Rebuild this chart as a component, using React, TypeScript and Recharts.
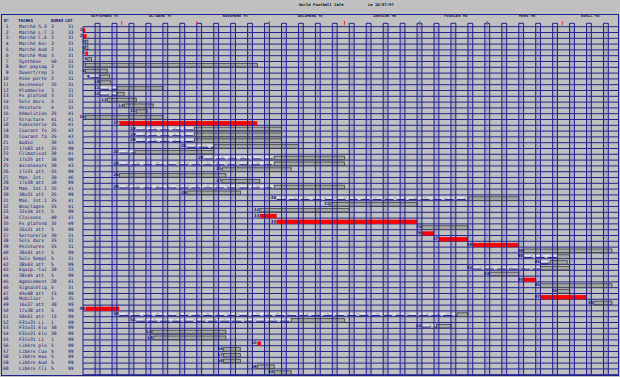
import React from 'react';
import { BarChart, Bar, XAxis, YAxis, CartesianGrid, ReferenceLine, ReferenceArea, LabelList } from 'recharts';

const W = 620;
const H = 377;
const MARGIN = { top: 26.7, right: 2, bottom: 2.3, left: 0 };
const TABLE_W = 83;
const DAY_MAX = 221; // days from Monday 15/09/97
const PX_PER_DAY = (W - MARGIN.left - MARGIN.right - TABLE_W) / DAY_MAX;

const NAVY = '#20208f';
const TEXT = '#0c0c78';
const MONO = 'DejaVu Sans Mono';

const taskNames = [
  'Marché G.O', 'Marché L.T', 'Marché C.E', 'Marché Asc', 'Marché Aud', 'Marché Mob',
  'Synthèse', 'Bur paysag', 'Ouvert/rep', 'Pose porte', 'Ascenseur', 'Plomberie',
  'Fx plafond', 'Sols durs', 'Peinture', 'Démolition', 'Structure', 'Fumisterie',
  'Courant fo', 'Courant fa', 'Audio', '17x03 att', 'Climatisat', '17x25 att',
  'Ascenseurs', '17x31 att', 'Man. Int.', '17x39 att', 'Man. Int.1', '30x31 att',
  'Man. Int.1', 'Bouclages', '32x34 att', 'Cloisons', 'Fx plafond', '35x31 att',
  'Serrurerie', 'Sols durs', 'Peintures', '30x41 att', 'Sols Sempl', '38x43 att',
  'Equip. Cui', '38x45 att', 'Agencement', 'Signalétiq', '45x48 att', 'Mobilier',
  '16x37 att', '17x38 att', '50x51 att', 'F31x31 Li', 'F31x31 Elo', 'F31x31 Elo',
  'F31x31 Li', 'Libère plo', 'Libère Cuv', 'Libère mus', 'Libère Aud', 'Libère Cli',
];

const durations = [
  3, 3, 3, 3, 3, 3, 50, 3, 3, 3, 35, 3, 3, 5, 4, 35, 41, 35, 35, 35,
  30, 35, 30, 30, 30, 35, 30, 30, 35, 35, 35, 35, 5, 40, 35, 5, 30, 35, 35, 5,
  5, 5, 30, 5, 20, 5, 15, 5, 30, 5, 15, 1, 30, 30, 1, 5, 5, 5, 5, 5,
];

const lots = [
  31, 33, 31, 31, 31, 31, 31, 31, 31, 31, 31, 31, 31, 31, 31, 41, 41, 41, 43, 43,
  43, 99, 41, 99, 43, 99, 46, 99, 41, 99, 41, 41, 99, 41, 49, 99, 31, 31, 31, 99,
  31, 99, 33, 99, 41, 31, 99, 35, 99, 99, 99, 99, 99, 99, 99, 99, 99, 99, 99, 99,
];

// [task, start day, end day]
const critBars = [
  [1, 0, 1], [2, 0, 1.5], [5, 1, 2], [17, 15, 72], [33, 73, 80], [34, 80, 138],
  [36, 140, 145], [37, 147, 159], [38, 161, 180], [44, 182, 187], [47, 189, 208],
  [49, 1, 15], [55, 72, 73.5],
];

const boxBars = [
  [3, 1, 2], [4, 1, 2], [6, 2, 3.5], [7, 1, 72], [8, 1, 10], [9, 7, 11], [10, 7, 11.5],
  [11, 14, 33], [12, 14, 17], [13, 10, 22], [14, 17, 29], [15, 22, 26.5], [16, 1, 33],
  [18, 46, 82], [19, 46, 82], [20, 46, 82], [21, 54, 89], [22, 21.5, 54], [23, 79, 108],
  [24, 79, 108], [25, 57.5, 86], [26, 15, 59], [27, 57.5, 73], [28, 79, 108], [29, 43, 65],
  [30, 159, 180], [31, 102, 138], [32, 73, 110], [35, 140, 159], [39, 182, 218.5],
  [40, 196, 201], [41, 193, 200], [42, 189, 201], [43, 168, 180], [45, 189, 218.5],
  [46, 196, 201], [48, 211, 218.5], [50, 154.5, 159], [51, 86, 108], [52, 146, 152],
  [53, 28.5, 59], [54, 29, 59], [56, 58, 65], [57, 58, 65], [58, 58, 65], [59, 72, 79],
  [60, 79, 86],
];

const waitBars = [
  [9, 3, 7], [11, 7, 14], [12, 7, 14], [18, 22, 46], [19, 22, 46], [20, 22, 46],
  [21, 43, 54], [22, 15, 21.5], [23, 50, 79], [24, 15, 79], [28, 15, 79], [30, 80, 159],
  [40, 182, 196], [41, 189, 193], [42, 161, 189], [50, 15, 154.5], [51, 22, 86],
  [52, 140, 146],
];

const monthNames = ['SEPTEMBRE 97', 'OCTOBRE 97', 'NOVEMBRE 97', 'DECEMBRE 97', 'JANVIER 98', 'FEVRIER 98', 'MARS 98', 'AVRIL 98'];
const monthLabelDays = [9, 32, 63, 94, 124.5, 154, 183.5, 209.5];
const monthStartDays = [16, 47, 77, 108, 139, 167, 198];
const saturdays = [5, 12, 19, 26, 33, 40, 47, 54, 61, 68, 75, 82, 89, 96, 103, 110, 117, 124, 131, 138, 145, 152, 159, 166, 173, 180, 187, 194, 201, 208, 215];
const mondays = [0, 7, 14, 21, 28, 35, 42, 49, 56, 63, 70, 77, 84, 91, 98, 105, 112, 119, 126, 133, 140, 147, 154, 161, 168, 175, 182, 189, 196, 203, 210, 217];

const rows = taskNames.map((name, i) => ({
  id: i + 1, name, dur: durations[i], lot: lots[i],
  crit: null, box: null, wait: null,
  critLbl: null, boxLbl: null, waitLbl: null,
}));
const put = (list, key) => list.forEach(([t, s, e]) => { rows[t - 1][key] = [s, e]; });
put(critBars, 'crit');
put(boxBars, 'box');
put(waitBars, 'wait');
rows.forEach((r) => {
  let first = null;
  ['wait', 'box', 'crit'].forEach((k) => {
    if (r[k] && (first === null || r[k][0] < r[first][0])) first = k;
  });
  if (first) r[first + 'Lbl'] = r.id;
});

const ok = (p) => Number.isFinite(p.x) && Number.isFinite(p.width) && p.width > 0;

const CritShape = (p) => ok(p) ? <rect x={p.x} y={p.y + 0.6} width={p.width} height={4.2} fill="#ff0000" /> : null;
const BoxShape = (p) => ok(p) ? (
  <rect x={p.x} y={p.y + 0.9} width={p.width} height={3.6} fill="#707070" fillOpacity={0.3} stroke="#4a4a4a" strokeWidth={0.9} />
) : null;
const WaitShape = (p) => {
  if (!ok(p)) return null;
  const cy = p.y + 2.7;
  return (
    <g>
      <line x1={p.x} x2={p.x + p.width} y1={cy - 0.8} y2={cy - 0.8} stroke="#e6e6ee" strokeWidth={1.4} strokeDasharray="7 3" />
      <line x1={p.x} x2={p.x + p.width} y1={cy + 0.9} y2={cy + 0.9} stroke={NAVY} strokeWidth={0.9} strokeDasharray="9 3" />
    </g>
  );
};

const StartLabel = (p) => {
  if (p.value == null) return null;
  const vb = p.viewBox || p;
  return (
    <text x={vb.x - 0.6} y={vb.y + 2.2} textAnchor="end" dominantBaseline="middle"
      fontFamily={MONO} fontSize={4.4} fontWeight="bold" fill={TEXT}>{p.value}</text>
  );
};

const TableTick = ({ y, payload }) => {
  const r = rows[payload.value - 1];
  if (!r) return null;
  const ty = y - 3;
  return (
    <g fontFamily={MONO} fontSize={4.6} fill={TEXT}>
      <text x={8.6} y={ty} textAnchor="end" dominantBaseline="middle">{r.id}</text>
      <text x={19} y={ty} dominantBaseline="middle">{r.name}</text>
      <text x={51} y={ty} dominantBaseline="middle">{r.dur}</text>
      <text x={68} y={ty} dominantBaseline="middle">{r.lot}</text>
    </g>
  );
};

// header decorations drawn as labels of reference lines (viewBox.y is the plot top)
const weekTab = (p) => {
  const { x, y } = p.viewBox;
  return <path d={`M${x},${y} V${y - 3.4} H${x + 2 * PX_PER_DAY} V${y}`} stroke={NAVY} strokeWidth={1} fill="none" />;
};
const monthMark = (p) => {
  const { x, y } = p.viewBox;
  return <line x1={x} x2={x} y1={y - 5.7} y2={y - 1.5} stroke="#ff2a2a" strokeWidth={1} />;
};
const monthLabel = (i) => (p) => {
  const { x, y } = p.viewBox;
  return (
    <text x={x} y={y - 10.5} textAnchor="middle" dominantBaseline="middle" fontFamily={MONO}
      fontSize={3.9} fontWeight="bold" fill="#1a1a50">{monthNames[i]}</text>
  );
};

const rowLines = ({ offset }) =>
  Array.from({ length: rows.length + 1 }, (_, i) => offset.top + (i * offset.height) / rows.length);

export default function App() {
  return (
    <div style={{ position: 'absolute', left: 0, top: 0, width: W, height: H, background: '#c0c0c0', overflow: 'hidden' }}>
      <BarChart width={W} height={H} data={rows} layout="vertical" margin={MARGIN} barSize={4} barGap={-4} barCategoryGap={0}>
        <XAxis type="number" domain={[0, DAY_MAX]} hide allowDataOverflow />
        <YAxis type="category" dataKey="id" width={TABLE_W} axisLine={false} tickLine={false} interval={0} tick={TableTick} />
        {saturdays.map((d) => (
          <ReferenceArea key={'a' + d} x1={d} x2={d + 2} fill="#4a4ab4" fillOpacity={0.16} stroke="none" />
        ))}
        <CartesianGrid vertical={false} stroke={NAVY} strokeWidth={1} horizontalCoordinatesGenerator={rowLines} />
        {saturdays.map((d) => (
          <ReferenceLine key={'s' + d} x={d} stroke={NAVY} strokeWidth={1} label={weekTab} />
        ))}
        {mondays.map((d) => (
          <ReferenceLine key={'m' + d} x={d} stroke={NAVY} strokeWidth={1} />
        ))}
        {monthStartDays.map((d) => (
          <ReferenceLine key={'ms' + d} x={d} stroke="none" label={monthMark} />
        ))}
        {monthLabelDays.map((d, i) => (
          <ReferenceLine key={'ml' + d} x={d} stroke="none" label={monthLabel(i)} />
        ))}
        <Bar dataKey="wait" shape={WaitShape} isAnimationActive={false}>
          <LabelList dataKey="waitLbl" content={StartLabel} />
        </Bar>
        <Bar dataKey="box" shape={BoxShape} isAnimationActive={false}>
          <LabelList dataKey="boxLbl" content={StartLabel} />
        </Bar>
        <Bar dataKey="crit" shape={CritShape} isAnimationActive={false}>
          <LabelList dataKey="critLbl" content={StartLabel} />
        </Bar>
      </BarChart>
      <svg width={W} height={H} style={{ position: 'absolute', left: 0, top: 0, pointerEvents: 'none' }}>
        <rect x={1.5} y={14.5} width={617} height={361} fill="none" stroke={NAVY} strokeWidth={1} />
        <g fontFamily={MONO} fontWeight="bold" fill="#111">
          <text x={299} y={5} fontSize={3.9} dominantBaseline="middle">World Football Cafe</text>
          <text x={368} y={5} fontSize={3.9} dominantBaseline="middle">Le 10/07/97</text>
        </g>
        <g fontFamily={MONO} fontWeight="bold" fontSize={4.2} fill={TEXT}>
          <text x={4} y={21} dominantBaseline="middle">N°</text>
          <text x={18} y={21} dominantBaseline="middle">TACHES</text>
          <text x={51} y={21} dominantBaseline="middle">DUREE</text>
          <text x={65} y={21} dominantBaseline="middle">LOT</text>
        </g>
      </svg>
    </div>
  );
}
